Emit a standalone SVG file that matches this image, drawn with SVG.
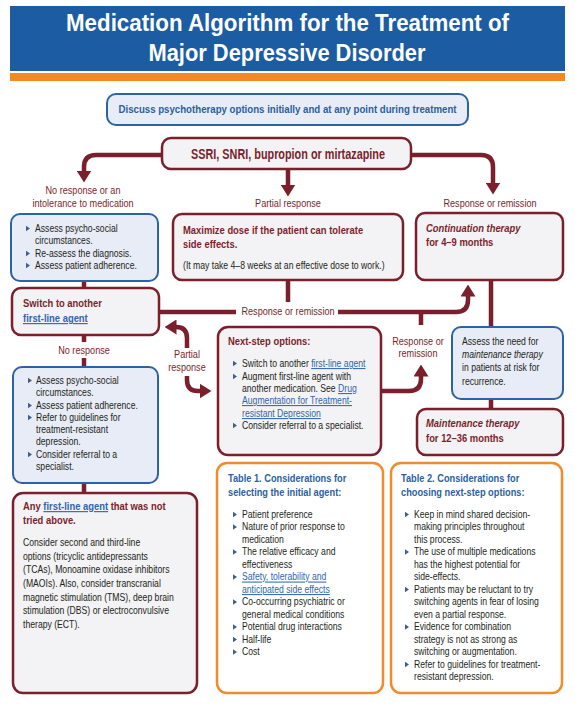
<svg xmlns="http://www.w3.org/2000/svg" width="575" height="708" viewBox="0 0 575 708">
<defs>
<style>
text{font-family:"Liberation Sans",Arial,Helvetica,sans-serif}
.bx{fill:#f3f2f4;stroke:#7b1f2c;stroke-width:2.5}
.bb{fill:#e8ecf6;stroke:#2c62a6;stroke-width:2}
.bo{fill:#ffffff;stroke:#ee8d2c;stroke-width:2.5}
.c{fill:none;stroke:#7b1f2c;stroke-width:4.5}
.lbl{font-size:10.6px;fill:#7b1f2c;text-anchor:middle}
.body{font-size:10.3px;fill:#231f20}
.hr{font-weight:bold;fill:#7b1f2c;font-size:11.2px}
.hb{font-weight:bold;fill:#2c5f9e;font-size:11px}
.lk{fill:#2f66ad;text-decoration:underline}
.bul{fill:#3f5f8f}
</style>
<marker id="ah" viewBox="0 0 12 15" refX="0.5" refY="7.5" markerWidth="12" markerHeight="15" markerUnits="userSpaceOnUse" orient="auto">
<path d="M0,0 L12,7.5 L0,15 Z" fill="#7b1f2c"/>
</marker>
<path id="bt" d="M0,-2.7 L4,0 L0,2.7 Z"/>
</defs>
<rect width="575" height="708" fill="#ffffff"/>

<g id="header">
<rect x="10" y="6" width="555" height="65" fill="#1c5ca3"/>
<rect x="10" y="73" width="555" height="8" fill="#ef8b22"/>
<text x="287.5" y="31" text-anchor="middle" font-size="24" font-weight="bold" fill="#ffffff" textLength="443" lengthAdjust="spacingAndGlyphs">Medication Algorithm for the Treatment of</text>
<text x="287" y="61" text-anchor="middle" font-size="24" font-weight="bold" fill="#ffffff" textLength="277" lengthAdjust="spacingAndGlyphs">Major Depressive Disorder</text>
</g>

<g id="connectors">
<path class="c" d="M163,155 H96 Q84,155 84,167 V171" marker-end="url(#ah)"/>
<path class="c" d="M288,169 V185" marker-end="url(#ah)"/>
<path class="c" d="M411,155 H481 Q493,155 493,167 V183" marker-end="url(#ah)"/>
<path class="c" d="M84,281 V289"/>
<path class="c" d="M288,280 V302"/>
<path class="c" d="M159,312 H236"/>
<path class="c" d="M338,312 H456 Q468,312 468,300 V296" marker-end="url(#ah)"/>
<path class="c" d="M421,310 V325"/>
<path class="c" d="M380,391 H409 Q421,391 421,379 V376" marker-end="url(#ah)"/>
<path class="c" d="M187,348 V338 Q187,327 176,327" marker-end="url(#ah)"/>
<path class="c" d="M187,376 V380 Q187,391 198,391 H200" marker-end="url(#ah)"/>
<path class="c" d="M84,335 V342"/>
<path class="c" d="M84,358 V368"/>
<path class="c" d="M84,483 V494"/>
<path class="c" d="M491,280 V328"/>
<path class="c" d="M491,399 V410"/>
<g transform="translate(83 0) scale(.86 1)"><text class="lbl" x="0" y="194">No response or an</text><text class="lbl" x="0" y="207">intolerance to medication</text></g>
<g transform="translate(288 0) scale(.86 1)"><text class="lbl" x="0" y="207">Partial response</text><text class="lbl" x="0" y="315">Response or remission</text></g>
<g transform="translate(490 0) scale(.86 1)"><text class="lbl" x="0" y="207">Response or remission</text></g>
<g transform="translate(84 0) scale(.86 1)"><text class="lbl" x="0" y="354">No response</text></g>
<g transform="translate(187 0) scale(.86 1)"><text class="lbl" x="0" y="358" font-size="11.5">Partial</text><text class="lbl" x="0" y="371" font-size="11.5">response</text></g>
<g transform="translate(418 0) scale(.86 1)"><text class="lbl" x="0" y="345">Response or</text><text class="lbl" x="0" y="357">remission</text></g>
</g>

<g id="psychotherapy">
<rect class="bb" x="107" y="94" width="361" height="31" rx="9"/>
<text x="287.5" y="113" text-anchor="middle" font-size="11.6" font-weight="bold" fill="#2c5f9e" textLength="338" lengthAdjust="spacingAndGlyphs">Discuss psychotherapy options initially and at any point during treatment</text>
</g>

<g id="first-line">
<rect class="bx" x="162" y="138" width="249" height="31" rx="9"/>
<text x="288" y="159" text-anchor="middle" font-size="14" font-weight="bold" fill="#7b1f2c" textLength="194" lengthAdjust="spacingAndGlyphs">SSRI, SNRI, bupropion or mirtazapine</text>
</g>

<g id="assess-1">
<rect class="bb" x="11" y="214" width="147" height="67" rx="9"/>
<use href="#bt" class="bul" x="26" y="228.5"/>
<use href="#bt" class="bul" x="26" y="253.5"/>
<use href="#bt" class="bul" x="26" y="265.5"/>
<g transform="translate(35 0) scale(.84 1)" class="body" font-size="10.2">
<text x="0" y="232">Assess psycho-social</text>
<text x="0" y="244">circumstances.</text>
<text x="0" y="257">Re-assess the diagnosis.</text>
<text x="0" y="269">Assess patient adherence.</text>
</g>
</g>

<g id="maximize">
<rect class="bx" x="173" y="214" width="230" height="66" rx="9"/>
<g transform="translate(183 0) scale(.84 1)">
<text class="hr" x="0" y="234">Maximize dose if the patient can tolerate</text>
<text class="hr" x="0" y="248">side effects.</text>
<text class="body" x="0" y="269" font-size="10">(It may take 4–8 weeks at an effective dose to work.)</text>
</g>
</g>

<g id="continuation">
<rect class="bx" x="416" y="213" width="147" height="67" rx="9"/>
<g transform="translate(426 0) scale(.84 1)">
<text class="hr" x="0" y="232" font-style="italic">Continuation therapy</text>
<text class="hr" x="0" y="246">for 4–9 months</text>
</g>
</g>

<g id="switch">
<rect class="bx" x="12" y="288" width="147" height="47" rx="9"/>
<g transform="translate(23 0) scale(.84 1)">
<text class="hr" x="0" y="307">Switch to another</text>
<text class="hr lk" x="0" y="322">first-line agent</text>
</g>
</g>

<g id="next-step">
<rect class="bx" x="218" y="327" width="163" height="128" rx="10"/>
<use href="#bt" class="bul" x="233" y="363.5"/>
<use href="#bt" class="bul" x="233" y="376.5"/>
<use href="#bt" class="bul" x="233" y="425.5"/>
<g transform="translate(228 0) scale(.84 1)"><text class="hr" x="0" y="345" font-size="11.1">Next-step options:</text></g>
<g transform="translate(242 0) scale(.84 1)" class="body">
<text x="0" y="367">Switch to another <tspan class="lk">first-line agent</tspan></text>
<text x="0" y="380">Augment first-line agent with</text>
<text x="0" y="392">another medication. See <tspan class="lk">Drug</tspan></text>
<text class="lk" x="0" y="404">Augmentation for Treatment-</text>
<text class="lk" x="0" y="417">resistant Depression</text>
<text x="0" y="429">Consider referral to a specialist.</text>
</g>
</g>

<g id="assess-maintenance">
<rect class="bb" x="452" y="327" width="111" height="72" rx="9"/>
<g transform="translate(462 0) scale(.84 1)" class="body" font-size="11.2">
<text x="0" y="345">Assess the need for</text>
<text x="0" y="358" font-style="italic">maintenance therapy</text>
<text x="0" y="371.5">in patients at risk for</text>
<text x="0" y="385">recurrence.</text>
</g>
</g>

<g id="maintenance">
<rect class="bx" x="417" y="409" width="146" height="46" rx="9"/>
<g transform="translate(426 0) scale(.84 1)">
<text class="hr" x="0" y="427" font-style="italic">Maintenance therapy</text>
<text class="hr" x="0" y="442">for 12–36 months</text>
</g>
</g>

<g id="assess-2">
<rect class="bb" x="13" y="367" width="145" height="116" rx="9"/>
<use href="#bt" class="bul" x="28" y="380.5"/>
<use href="#bt" class="bul" x="28" y="405.5"/>
<use href="#bt" class="bul" x="28" y="417.5"/>
<use href="#bt" class="bul" x="28" y="454.5"/>
<g transform="translate(36 0) scale(.84 1)" class="body" font-size="10.2">
<text x="0" y="384">Assess psycho-social</text>
<text x="0" y="396">circumstances.</text>
<text x="0" y="409">Assess patient adherence.</text>
<text x="0" y="421">Refer to guidelines for</text>
<text x="0" y="433">treatment-resistant</text>
<text x="0" y="445">depression.</text>
<text x="0" y="458">Consider referral to a</text>
<text x="0" y="470">specialist.</text>
</g>
</g>

<g id="other-agents">
<rect class="bx" x="13" y="493" width="184" height="200" rx="10"/>
<g transform="translate(23 0) scale(.84 1)">
<text class="hr" x="0" y="510" font-size="11.4">Any <tspan class="lk">first-line agent</tspan> that was not</text>
<text class="hr" x="0" y="524" font-size="11.4">tried above.</text>
<g class="body" font-size="10.9">
<text x="0" y="546">Consider second and third-line</text>
<text x="0" y="560">options (tricyclic antidepressants</text>
<text x="0" y="573.5">(TCAs), Monoamine oxidase inhibitors</text>
<text x="0" y="587">(MAOIs). Also, consider transcranial</text>
<text x="0" y="601">magnetic stimulation (TMS), deep brain</text>
<text x="0" y="614.5">stimulation (DBS) or electroconvulsive</text>
<text x="0" y="628">therapy (ECT).</text>
</g>
</g>
</g>

<g id="table-1">
<rect class="bo" x="217" y="463" width="166" height="230" rx="10"/>
<g transform="translate(228 0) scale(.84 1)">
<text class="hb" x="0" y="482">Table 1. Considerations for</text>
<text class="hb" x="0" y="496">selecting the initial agent:</text>
</g>
<use href="#bt" class="bul" x="233" y="514.5"/>
<use href="#bt" class="bul" x="233" y="527"/>
<use href="#bt" class="bul" x="233" y="552"/>
<use href="#bt" class="bul" x="233" y="577"/>
<use href="#bt" class="bul" x="233" y="602"/>
<use href="#bt" class="bul" x="233" y="627"/>
<use href="#bt" class="bul" x="233" y="639.5"/>
<use href="#bt" class="bul" x="233" y="652"/>
<g transform="translate(242 0) scale(.84 1)" class="body" font-size="10.6">
<text x="0" y="518">Patient preference</text>
<text x="0" y="530.5">Nature of prior response to</text>
<text x="0" y="543">medication</text>
<text x="0" y="555.5">The relative efficacy and</text>
<text x="0" y="568">effectiveness</text>
<text class="lk" x="0" y="580.5">Safety, tolerability and</text>
<text class="lk" x="0" y="593">anticipated side effects</text>
<text x="0" y="605.5">Co-occurring psychiatric or</text>
<text x="0" y="618">general medical conditions</text>
<text x="0" y="630.5">Potential drug interactions</text>
<text x="0" y="643">Half-life</text>
<text x="0" y="655.5">Cost</text>
</g>
</g>

<g id="table-2">
<rect class="bo" x="391" y="463" width="171" height="230" rx="10"/>
<g transform="translate(401 0) scale(.84 1)">
<text class="hb" x="0" y="482">Table 2. Considerations for</text>
<text class="hb" x="0" y="496">choosing next-step options:</text>
</g>
<use href="#bt" class="bul" x="405" y="514.5"/>
<use href="#bt" class="bul" x="405" y="552"/>
<use href="#bt" class="bul" x="405" y="589.5"/>
<use href="#bt" class="bul" x="405" y="627"/>
<use href="#bt" class="bul" x="405" y="664.5"/>
<g transform="translate(414 0) scale(.84 1)" class="body" font-size="10.6">
<text x="0" y="518">Keep in mind shared decision-</text>
<text x="0" y="530.5">making principles throughout</text>
<text x="0" y="543">this process.</text>
<text x="0" y="555.5">The use of multiple medications</text>
<text x="0" y="568">has the highest potential for</text>
<text x="0" y="580.5">side-effects.</text>
<text x="0" y="593">Patients may be reluctant to try</text>
<text x="0" y="605.5">switching agents in fear of losing</text>
<text x="0" y="618">even a partial response.</text>
<text x="0" y="630.5">Evidence for combination</text>
<text x="0" y="643">strategy is not as strong as</text>
<text x="0" y="655.5">switching or augmentation.</text>
<text x="0" y="668">Refer to guidelines for treatment-</text>
<text x="0" y="680.5">resistant depression.</text>
</g>
</g>
</svg>
